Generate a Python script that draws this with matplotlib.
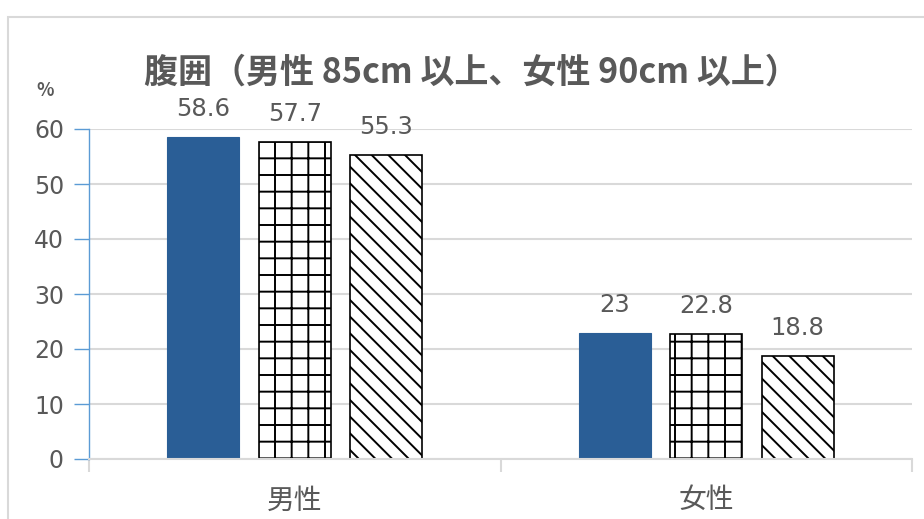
import matplotlib.pyplot as plt
from matplotlib.patches import Rectangle
import numpy as np

plt.rcParams['font.family'] = ['Noto Sans CJK JP', 'DejaVu Sans']
plt.rcParams['hatch.linewidth'] = 1.4

categories = ['男性', '女性']
series_a = [58.6, 23]
series_b = [57.7, 22.8]
series_c = [55.3, 18.8]
yticks = [0, 10, 20, 30, 40, 50, 60]

text_color = '#595959'
blue = '#2A5E96'
num_font = 'DejaVu Sans'

fig = plt.figure(figsize=(9.24, 5.19), dpi=100)
ax = fig.add_axes([89 / 924, 1 - 459 / 519, (912 - 89) / 924, (459 - 129) / 519])

# outer chart border (runs off the right and bottom edges)
fig.add_artist(Rectangle((8 / 924, -0.1), 1.1, 1 - 17 / 519 + 0.1,
                         transform=fig.transFigure, fill=False,
                         edgecolor='#d9d9d9', linewidth=1.5))

x = np.arange(len(categories)) + 0.5
w = 0.175
off = 0.222

bars_a = ax.bar(x - off, series_a, w, color=blue, edgecolor=blue, linewidth=0.8)
bars_b = ax.bar(x, series_b, w, color='white', edgecolor='black', hatch='+', linewidth=1.2)
bars_c = ax.bar(x + off, series_c, w, color='white', edgecolor='black', hatch='\\\\', linewidth=1.2)

for bars, vals in [(bars_a, series_a), (bars_b, series_b), (bars_c, series_c)]:
    for b, v in zip(bars, vals):
        ax.annotate(f'{v:g}', (b.get_x() + b.get_width() / 2, v),
                    xytext=(0, 20), textcoords='offset points',
                    ha='center', va='center', fontsize=17.5, color=text_color,
                    family=num_font)

ax.set_xlim(0, 2)
ax.set_ylim(0, 60)
ax.set_yticks(yticks)
ax.set_yticklabels([str(t) for t in yticks], fontsize=17, color=text_color,
                   family=num_font)
ax.grid(axis='y', color='#d9d9d9', linewidth=1.5)
ax.set_axisbelow(True)

ax.set_xticks([0, 1, 2])
ax.set_xticklabels([])
ax.set_xticks(x, minor=True)
ax.set_xticklabels(categories, minor=True, fontsize=20, color=text_color)
ax.tick_params(axis='x', which='major', length=9, color='#d9d9d9', width=1.5)
ax.tick_params(axis='x', which='minor', length=0, pad=19)
ax.tick_params(axis='y', length=11, color='#5b9bd5', width=1, pad=7)

for s in ['top', 'right']:
    ax.spines[s].set_visible(False)
ax.spines['bottom'].set_color('#d9d9d9')
ax.spines['bottom'].set_linewidth(1.5)
ax.spines['left'].set_color('#5b9bd5')
ax.spines['left'].set_linewidth(1)

fig.text(471 / 924, 1 - 72 / 519, '腹囲（男性 85cm 以上、女性 90cm 以上）',
         ha='center', va='center', fontsize=24.5, fontweight='bold', color=text_color)
fig.text(45 / 924, 1 - 91 / 519, '%', ha='center', va='center',
         fontsize=13, fontweight='bold', color=text_color)

fig.savefig('out.png', dpi=100)
